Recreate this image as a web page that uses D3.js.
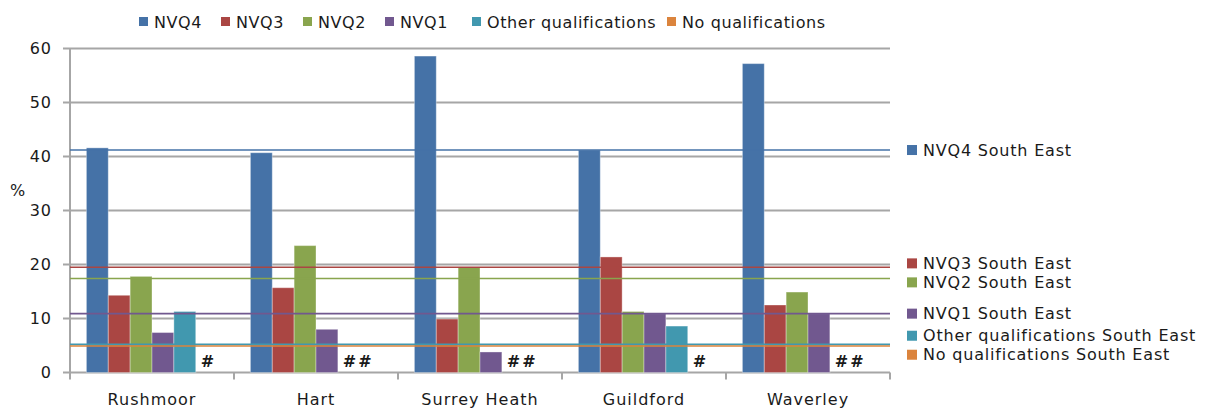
<!DOCTYPE html>
<html>
<head>
<meta charset="utf-8">
<script src="https://cdn.jsdelivr.net/npm/d3@7/dist/d3.min.js"></script>
<style>
  html, body { margin: 0; padding: 0; background: #fff; }
  svg { display: block; }
  text { font-family: "DejaVu Sans", Verdana, sans-serif; fill: #1a1a1a; }
</style>
</head>
<body>
<svg id="chart" width="1207" height="409"></svg>
<script>
// ---- Data ----
const categories = ["Rushmoor", "Hart", "Surrey Heath", "Guildford", "Waverley"];
const seriesNames = ["NVQ4", "NVQ3", "NVQ2", "NVQ1", "Other qualifications", "No qualifications"];
const seriesColors = ["#4572A7", "#AA4643", "#89A54E", "#71588F", "#4198AF", "#DB843D"];
// null = suppressed value (shown as #)
const nvq4  = [41.6, 40.7, 58.6, 41.2, 57.2];
const nvq3  = [14.3, 15.7, 9.9, 21.4, 12.5];
const nvq2  = [17.8, 23.5, 19.5, 11.3, 14.9];
const nvq1  = [7.4, 8.0, 3.8, 10.9, 10.9];
const otherQ = [11.3, null, null, 8.6, null];
const noQ    = [null, null, null, null, null];
const seriesValues = [nvq4, nvq3, nvq2, nvq1, otherQ, noQ];
const southEastNames = ["NVQ4 South East", "NVQ3 South East", "NVQ2 South East", "NVQ1 South East", "Other qualifications South East", "No qualifications South East"];
const southEastValues = [41.2, 19.5, 17.4, 10.9, 5.2, 4.9];
const yTicks = [0, 10, 20, 30, 40, 50, 60];

// ---- Layout ----
const svg = d3.select("#chart");
const plot = { left: 70, right: 890, top: 48.5, bottom: 372.5 };

const x0 = d3.scaleBand().domain(categories).range([plot.left, plot.right]).paddingInner(0).paddingOuter(0);
// Excel gap width 150%: slots of width w, gap 1.5w split half each side
const x1 = d3.scaleBand().domain(d3.range(seriesNames.length))
  .range([0, x0.bandwidth()]).paddingInner(0).paddingOuter(0.75);
const y = d3.scaleLinear().domain([0, 60]).range([plot.bottom, plot.top]);

// Gridlines
svg.append("g").selectAll("line").data(yTicks).join("line")
  .attr("x1", plot.left - 7).attr("x2", plot.right)
  .attr("y1", d => y(d)).attr("y2", d => y(d))
  .attr("stroke", "#a6a6a6").attr("stroke-width", 2);

// Y axis line
svg.append("line").attr("x1", plot.left).attr("x2", plot.left)
  .attr("y1", plot.top).attr("y2", plot.bottom + 1)
  .attr("stroke", "#a6a6a6").attr("stroke-width", 2);

// X axis category ticks
svg.append("g").selectAll("line").data(categories.concat(["_end"])).join("line")
  .attr("x1", (d, i) => plot.left + i * x0.bandwidth())
  .attr("x2", (d, i) => plot.left + i * x0.bandwidth())
  .attr("y1", plot.bottom).attr("y2", plot.bottom + 7)
  .attr("stroke", "#a6a6a6").attr("stroke-width", 2);

// Y tick labels
svg.append("g").selectAll("text").data(yTicks).join("text")
  .attr("x", plot.left - 18).attr("y", d => y(d))
  .attr("dy", "0.36em").attr("text-anchor", "end")
  .attr("font-size", 16).attr("letter-spacing", 1).text(d => d);

svg.append("text").attr("x", 10).attr("y", 196).attr("font-size", 16).text("%");

// Bars
const barData = [];
categories.forEach((c, ci) => {
  seriesValues.forEach((vals, si) => {
    if (vals[ci] != null) barData.push({ c, si, v: vals[ci] });
  });
});
svg.append("g").selectAll("rect").data(barData).join("rect")
  .attr("x", d => x0(d.c) + x1(d.si))
  .attr("width", x1.bandwidth())
  .attr("y", d => y(d.v))
  .attr("height", d => y(0) - y(d.v))
  .attr("fill", d => seriesColors[d.si])
  .attr("stroke", "rgba(255,255,255,0.35)").attr("stroke-width", 1);

// "#" markers for suppressed values
const hashData = categories.map((c, ci) => {
  const missing = seriesValues.map((vals, si) => vals[ci] == null ? si : -1).filter(s => s >= 0);
  return { c, first: missing[0], label: "#".repeat(missing.length) };
}).filter(d => d.first != null);
svg.append("g").selectAll("text").data(hashData).join("text")
  .attr("x", d => x0(d.c) + x1(d.first) + 5)
  .attr("y", y(0) - 6)
  .attr("font-size", 16).attr("font-weight", "bold").attr("letter-spacing", 2)
  .text(d => d.label);

// South East reference lines
svg.append("g").selectAll("line").data(southEastValues).join("line")
  .attr("x1", plot.left).attr("x2", plot.right)
  .attr("y1", d => y(d)).attr("y2", d => y(d))
  .attr("stroke", (d, i) => seriesColors[i]).attr("stroke-width", 1.6);

// Category labels
svg.append("g").selectAll("text").data(categories).join("text")
  .attr("x", d => x0(d) + x0.bandwidth() / 2).attr("y", 405)
  .attr("text-anchor", "middle").attr("font-size", 16).attr("letter-spacing", 1).text(d => d);

// Top legend
const legendX = [139, 221, 303, 385, 472, 667];
const topLegend = svg.append("g").selectAll("g").data(seriesNames).join("g")
  .attr("transform", (d, i) => `translate(${legendX[i]},22)`);
topLegend.append("rect").attr("x", 0).attr("y", -5).attr("width", 9).attr("height", 9)
  .attr("fill", (d, i) => seriesColors[i]);
topLegend.append("text").attr("x", 15).attr("dy", "0.35em").attr("font-size", 16)
  .attr("letter-spacing", 0.6).text(d => d);

// Right legend: positions from line values with overlap avoidance
const minGap = 19;
let pos = southEastValues.map((v, i) => ({ i, yy: y(v) })).sort((a, b) => a.yy - b.yy);
for (let iter = 0; iter < 50; iter++) {
  for (let k = 1; k < pos.length; k++) {
    const d = pos[k].yy - pos[k - 1].yy;
    if (d < minGap) {
      const shift = (minGap - d) / 2;
      pos[k - 1].yy -= shift; pos[k].yy += shift;
    }
  }
}
const rl = svg.append("g").selectAll("g").data(pos).join("g")
  .attr("transform", d => `translate(907,${d.yy})`);
rl.append("rect").attr("x", 0).attr("y", -5).attr("width", 10).attr("height", 10)
  .attr("fill", d => seriesColors[d.i]);
rl.append("text").attr("x", 16).attr("dy", "0.36em").attr("font-size", 16)
  .attr("letter-spacing", 0.8).text(d => southEastNames[d.i]);
</script>
</body>
</html>
